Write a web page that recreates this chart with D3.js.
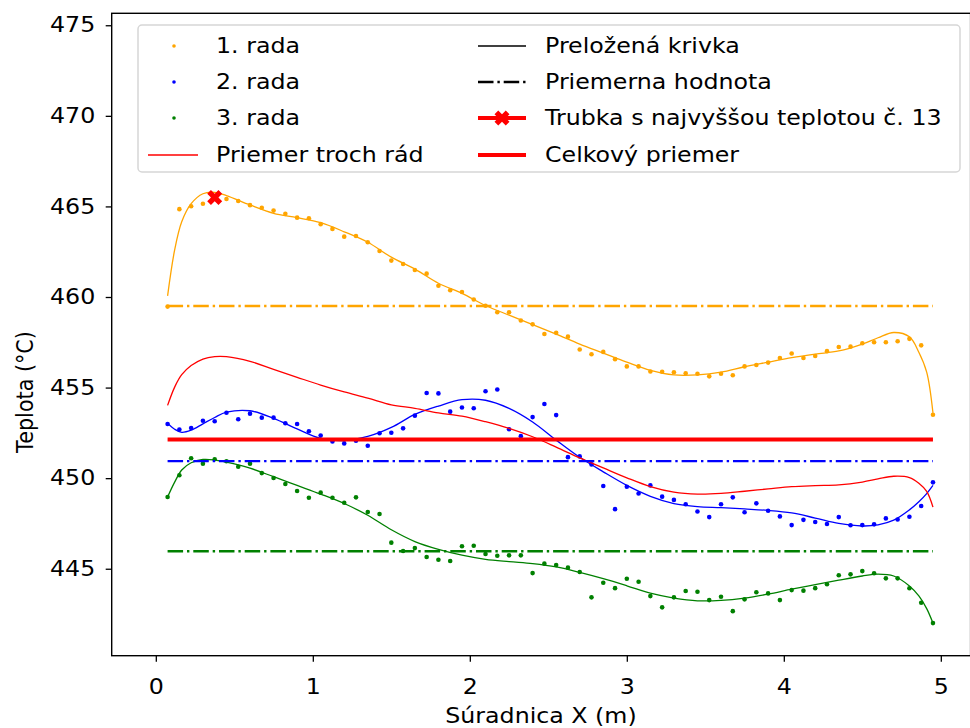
<!DOCTYPE html>
<html>
<head>
<meta charset="utf-8">
<script src="https://cdn.jsdelivr.net/npm/d3@7"></script>
<style>
  html, body { margin: 0; padding: 0; background: #fff; }
  svg { display: block; font-family: "DejaVu Sans", sans-serif; }
</style>
</head>
<body>
<svg id="chart" width="970" height="728"></svg>
<script>
// Measurement positions along the pipe (m)
const xPos = [0.075,0.15,0.225,0.3,0.375,0.45,0.525,0.6,0.675,0.75,0.825,0.9,0.975,1.05,1.125,1.2,1.275,1.35,1.425,1.5,1.575,1.65,1.725,1.8,1.875,1.95,2.025,2.1,2.175,2.25,2.325,2.4,2.475,2.55,2.625,2.7,2.775,2.85,2.925,3.0,3.075,3.15,3.225,3.3,3.375,3.45,3.525,3.6,3.675,3.75,3.825,3.9,3.975,4.05,4.125,4.2,4.275,4.35,4.425,4.5,4.575,4.65,4.725,4.8,4.875,4.95];

// Measured temperatures (°C) for the three rows
const rada1 = [459.47,464.85,465.01,465.15,465.49,465.41,465.30,465.07,464.93,464.77,464.59,464.38,464.35,464.02,463.76,463.33,463.37,463.02,462.54,462.01,461.82,461.49,461.29,460.62,460.37,460.28,459.86,459.52,459.16,459.16,458.70,458.49,457.96,458.02,457.81,457.10,456.84,456.97,456.57,456.17,456.17,455.89,455.87,455.85,455.79,455.76,455.62,455.76,455.68,456.17,456.25,456.38,456.63,456.88,456.63,456.74,457.01,457.24,457.26,457.45,457.50,457.50,457.56,457.69,457.33,453.50];
const rada2 = [452.99,452.68,452.77,453.17,453.14,453.61,453.25,453.56,453.34,453.34,453.03,452.99,452.59,452.35,452.03,451.92,452.07,451.79,452.48,452.51,452.75,453.45,454.70,454.68,453.67,453.90,453.86,454.80,454.89,452.70,452.32,453.37,454.09,453.48,451.16,451.20,450.76,449.57,448.29,449.53,449.15,449.60,448.98,448.80,448.56,448.16,447.85,448.56,448.94,448.12,448.61,448.20,447.89,447.41,447.70,447.58,447.47,447.85,447.40,447.41,447.45,447.78,447.72,447.87,448.46,449.77];
const rada3 = [448.96,450.16,451.10,450.80,451.04,450.93,450.63,450.80,450.28,450.01,449.68,449.29,448.92,449.20,448.92,448.64,448.94,448.13,448.02,446.44,445.98,446.14,445.65,445.50,445.43,446.24,446.27,445.81,445.72,445.74,445.74,444.76,445.28,445.20,445.06,444.82,443.42,444.23,443.93,444.45,444.28,443.49,442.87,443.42,443.77,443.73,443.27,443.45,442.66,443.31,443.70,443.64,443.27,443.82,443.79,443.93,444.14,444.64,444.69,444.87,444.75,444.47,444.47,443.92,443.12,442.00];

// Fitted curves sampled at common positions
const fitX = [0.075,0.12,0.165,0.225,0.3,0.375,0.45,0.6,0.75,0.9,1.05,1.2,1.35,1.5,1.65,1.8,1.95,2.1,2.25,2.4,2.55,2.7,2.85,3.0,3.15,3.3,3.45,3.6,3.75,3.9,4.05,4.2,4.35,4.5,4.6,4.7,4.8,4.86,4.91,4.95];
const fit1 = [460.06,462.6,464.15,465.15,465.7,465.78,465.6,465.08,464.62,464.38,464.1,463.6,463.02,462.2,461.54,460.76,460.2,459.53,459.0,458.48,457.95,457.4,456.9,456.4,455.95,455.7,455.7,455.85,456.15,456.4,456.65,456.85,457.02,457.4,457.75,458.04,457.8,456.95,455.85,453.6];
const fit2 = [453.03,452.7,452.53,452.65,453.0,453.35,453.64,453.72,453.3,452.72,452.2,452.08,452.3,452.8,453.52,453.98,454.33,454.3,453.85,453.1,452.1,451.15,450.35,449.6,449.0,448.6,448.43,448.37,448.3,448.22,448.08,447.8,447.5,447.36,447.42,447.68,448.25,448.7,449.15,449.6];
const fit3 = [448.96,449.78,450.45,450.85,451.03,451.0,450.88,450.55,450.08,449.6,449.12,448.6,447.95,447.15,446.5,446.07,445.75,445.52,445.39,445.28,445.1,444.8,444.45,444.06,443.65,443.38,443.23,443.25,443.38,443.6,443.87,444.12,444.37,444.6,444.7,444.6,444.05,443.5,442.8,442.0];

const xTicks = [0, 1, 2, 3, 4, 5];
const yTicks = [445, 450, 455, 460, 465, 470, 475];

const seriesColors = ["orange", "blue", "green"];
const seriesNames = ["1. rada", "2. rada", "3. rada"];

// Text metrics: glyphs are drawn a little wider than tall
const FS = 20.7, SX = 1.145;

const svg = d3.select("#chart");
const mLeft = 111.7, mTop = 13.3, mBottom = 655.7, mRight = 970.6;

const x = d3.scaleLinear().domain([-0.281, 5.25]).range([mLeft, mLeft + 5.531 * 157]);
const y = d3.scaleLinear().domain([440.2, 475.66]).range([mBottom, mTop]);

const plot = svg.append("g");

// Points of the three rows
const rows = [rada1, rada2, rada3];
rows.forEach((vals, i) => {
  plot.append("g").selectAll("circle")
    .data(vals)
    .join("circle")
    .attr("cx", (d, j) => x(xPos[j]))
    .attr("cy", d => y(d))
    .attr("r", 2.3)
    .attr("fill", seriesColors[i]);
});

// Fitted curves
const curveLine = d3.line()
  .x((d, j) => x(fitX[j]))
  .y(d => y(d))
  .curve(d3.curveCatmullRom.alpha(0.5));

[fit1, fit2, fit3].forEach((vals, i) => {
  plot.append("path")
    .attr("d", curveLine(vals))
    .attr("fill", "none")
    .attr("stroke", seriesColors[i])
    .attr("stroke-width", 1.3);
});

// Mean of the three fitted curves
const fitMean = fitX.map((_, j) => (fit1[j] + fit2[j] + fit3[j]) / 3);
plot.append("path")
  .attr("d", curveLine(fitMean))
  .attr("fill", "none")
  .attr("stroke", "red")
  .attr("stroke-width", 1.3);

// Row averages as dash-dot lines
const dashDot = "15.5,3.9,2.4,3.9";
const means = rows.map(v => d3.mean(v));
means.forEach((m, i) => {
  plot.append("line")
    .attr("x1", x(xPos[0])).attr("x2", x(xPos[xPos.length - 1]))
    .attr("y1", y(m)).attr("y2", y(m))
    .attr("stroke", seriesColors[i])
    .attr("stroke-width", 2.4)
    .attr("stroke-dasharray", dashDot);
});

// Overall average
const overall = d3.mean(means);
plot.append("line")
  .attr("x1", x(xPos[0])).attr("x2", x(xPos[xPos.length - 1]))
  .attr("y1", y(overall)).attr("y2", y(overall))
  .attr("stroke", "red")
  .attr("stroke-width", 4);

// Thick filled "X" marker
function drawX(g, cx, cy, size) {
  const s = size / 2, w = size * 0.25;
  const p = `M${-w},0 L${-s},${-s + w} L${-s + w},${-s} L0,${-w} L${s - w},${-s} L${s},${-s + w} L${w},0 L${s},${s - w} L${s - w},${s} L0,${w} L${-s + w},${s} L${-s},${s - w} Z`;
  g.append("path").attr("d", p).attr("transform", `translate(${cx},${cy})`).attr("fill", "red");
}

// Hottest tube marker
const iMax = d3.maxIndex(rada1);
drawX(plot, x(xPos[iMax]), y(rada1[iMax]), 15);

// Axes
const xAxis = d3.axisBottom(x).tickValues(xTicks).tickFormat(d3.format("d")).tickSize(6).tickPadding(18);
const yAxis = d3.axisLeft(y).tickValues(yTicks).tickFormat(d3.format("d")).tickSize(6).tickPadding(10.5);

const gx = svg.append("g").attr("transform", `translate(0,${mBottom})`).call(xAxis);
const gy = svg.append("g").attr("transform", `translate(${mLeft},0)`).call(yAxis);
[gx, gy].forEach(g => {
  g.select(".domain").remove();
  g.selectAll(".tick line").attr("stroke", "#000").attr("stroke-width", 1.3);
  g.selectAll(".tick text").attr("fill", "#000").attr("font-size", FS).attr("font-family", "DejaVu Sans");
});
gx.selectAll(".tick text").attr("transform", `scale(${SX},1)`);
gy.selectAll(".tick text").attr("x", -16.5 / SX).attr("transform", `scale(${SX},1)`);

// Frame
svg.append("rect")
  .attr("x", mLeft).attr("y", mTop)
  .attr("width", mRight - mLeft).attr("height", mBottom - mTop)
  .attr("fill", "none").attr("stroke", "#000").attr("stroke-width", 1.4);

// Horizontal text helper
function addText(g, tx, ty, str, anchor) {
  return g.append("text")
    .attr("transform", `translate(${tx},${ty}) scale(${SX},1)`)
    .attr("text-anchor", anchor || "start")
    .attr("dy", "0.36em")
    .attr("font-size", FS)
    .text(str);
}

// Axis titles
addText(svg, 541, 716, "Súradnica X (m)", "middle");
svg.append("text")
  .attr("transform", `translate(33,392) scale(${SX},1) rotate(-90)`)
  .attr("text-anchor", "middle").attr("font-size", FS)
  .text("Teplota (°C)");

// Legend
const lg = svg.append("g");
lg.append("rect")
  .attr("x", 138).attr("y", 25).attr("width", 822).attr("height", 147)
  .attr("rx", 4).attr("fill", "#fff").attr("fill-opacity", 0.8)
  .attr("stroke", "#d6d6d6").attr("stroke-width", 1.5);

const rowY = [46, 82, 118, 155];
seriesNames.forEach((n, i) => {
  lg.append("circle").attr("cx", 174).attr("cy", rowY[i]).attr("r", 1.8).attr("fill", seriesColors[i]);
  addText(lg, 216, rowY[i], n);
});
lg.append("line").attr("x1", 148).attr("x2", 198).attr("y1", rowY[3]).attr("y2", rowY[3])
  .attr("stroke", "red").attr("stroke-width", 1.3);
addText(lg, 216, rowY[3], "Priemer troch rád");

const lx1 = 478, lx2 = 526, tx = 545;
lg.append("line").attr("x1", lx1).attr("x2", lx2).attr("y1", rowY[0]).attr("y2", rowY[0])
  .attr("stroke", "#000").attr("stroke-width", 1.3);
addText(lg, tx, rowY[0], "Preložená krivka");
lg.append("line").attr("x1", lx1).attr("x2", lx2).attr("y1", rowY[1]).attr("y2", rowY[1])
  .attr("stroke", "#000").attr("stroke-width", 2.4).attr("stroke-dasharray", dashDot);
addText(lg, tx, rowY[1], "Priemerna hodnota");
lg.append("line").attr("x1", lx1).attr("x2", lx2).attr("y1", rowY[2]).attr("y2", rowY[2])
  .attr("stroke", "red").attr("stroke-width", 4);
drawX(lg, (lx1 + lx2) / 2, rowY[2], 15);
addText(lg, tx, rowY[2], "Trubka s najvyššou teplotou č. 13");
lg.append("line").attr("x1", lx1).attr("x2", lx2).attr("y1", rowY[3]).attr("y2", rowY[3])
  .attr("stroke", "red").attr("stroke-width", 4);
addText(lg, tx, rowY[3], "Celkový priemer");
</script>
</body>
</html>
